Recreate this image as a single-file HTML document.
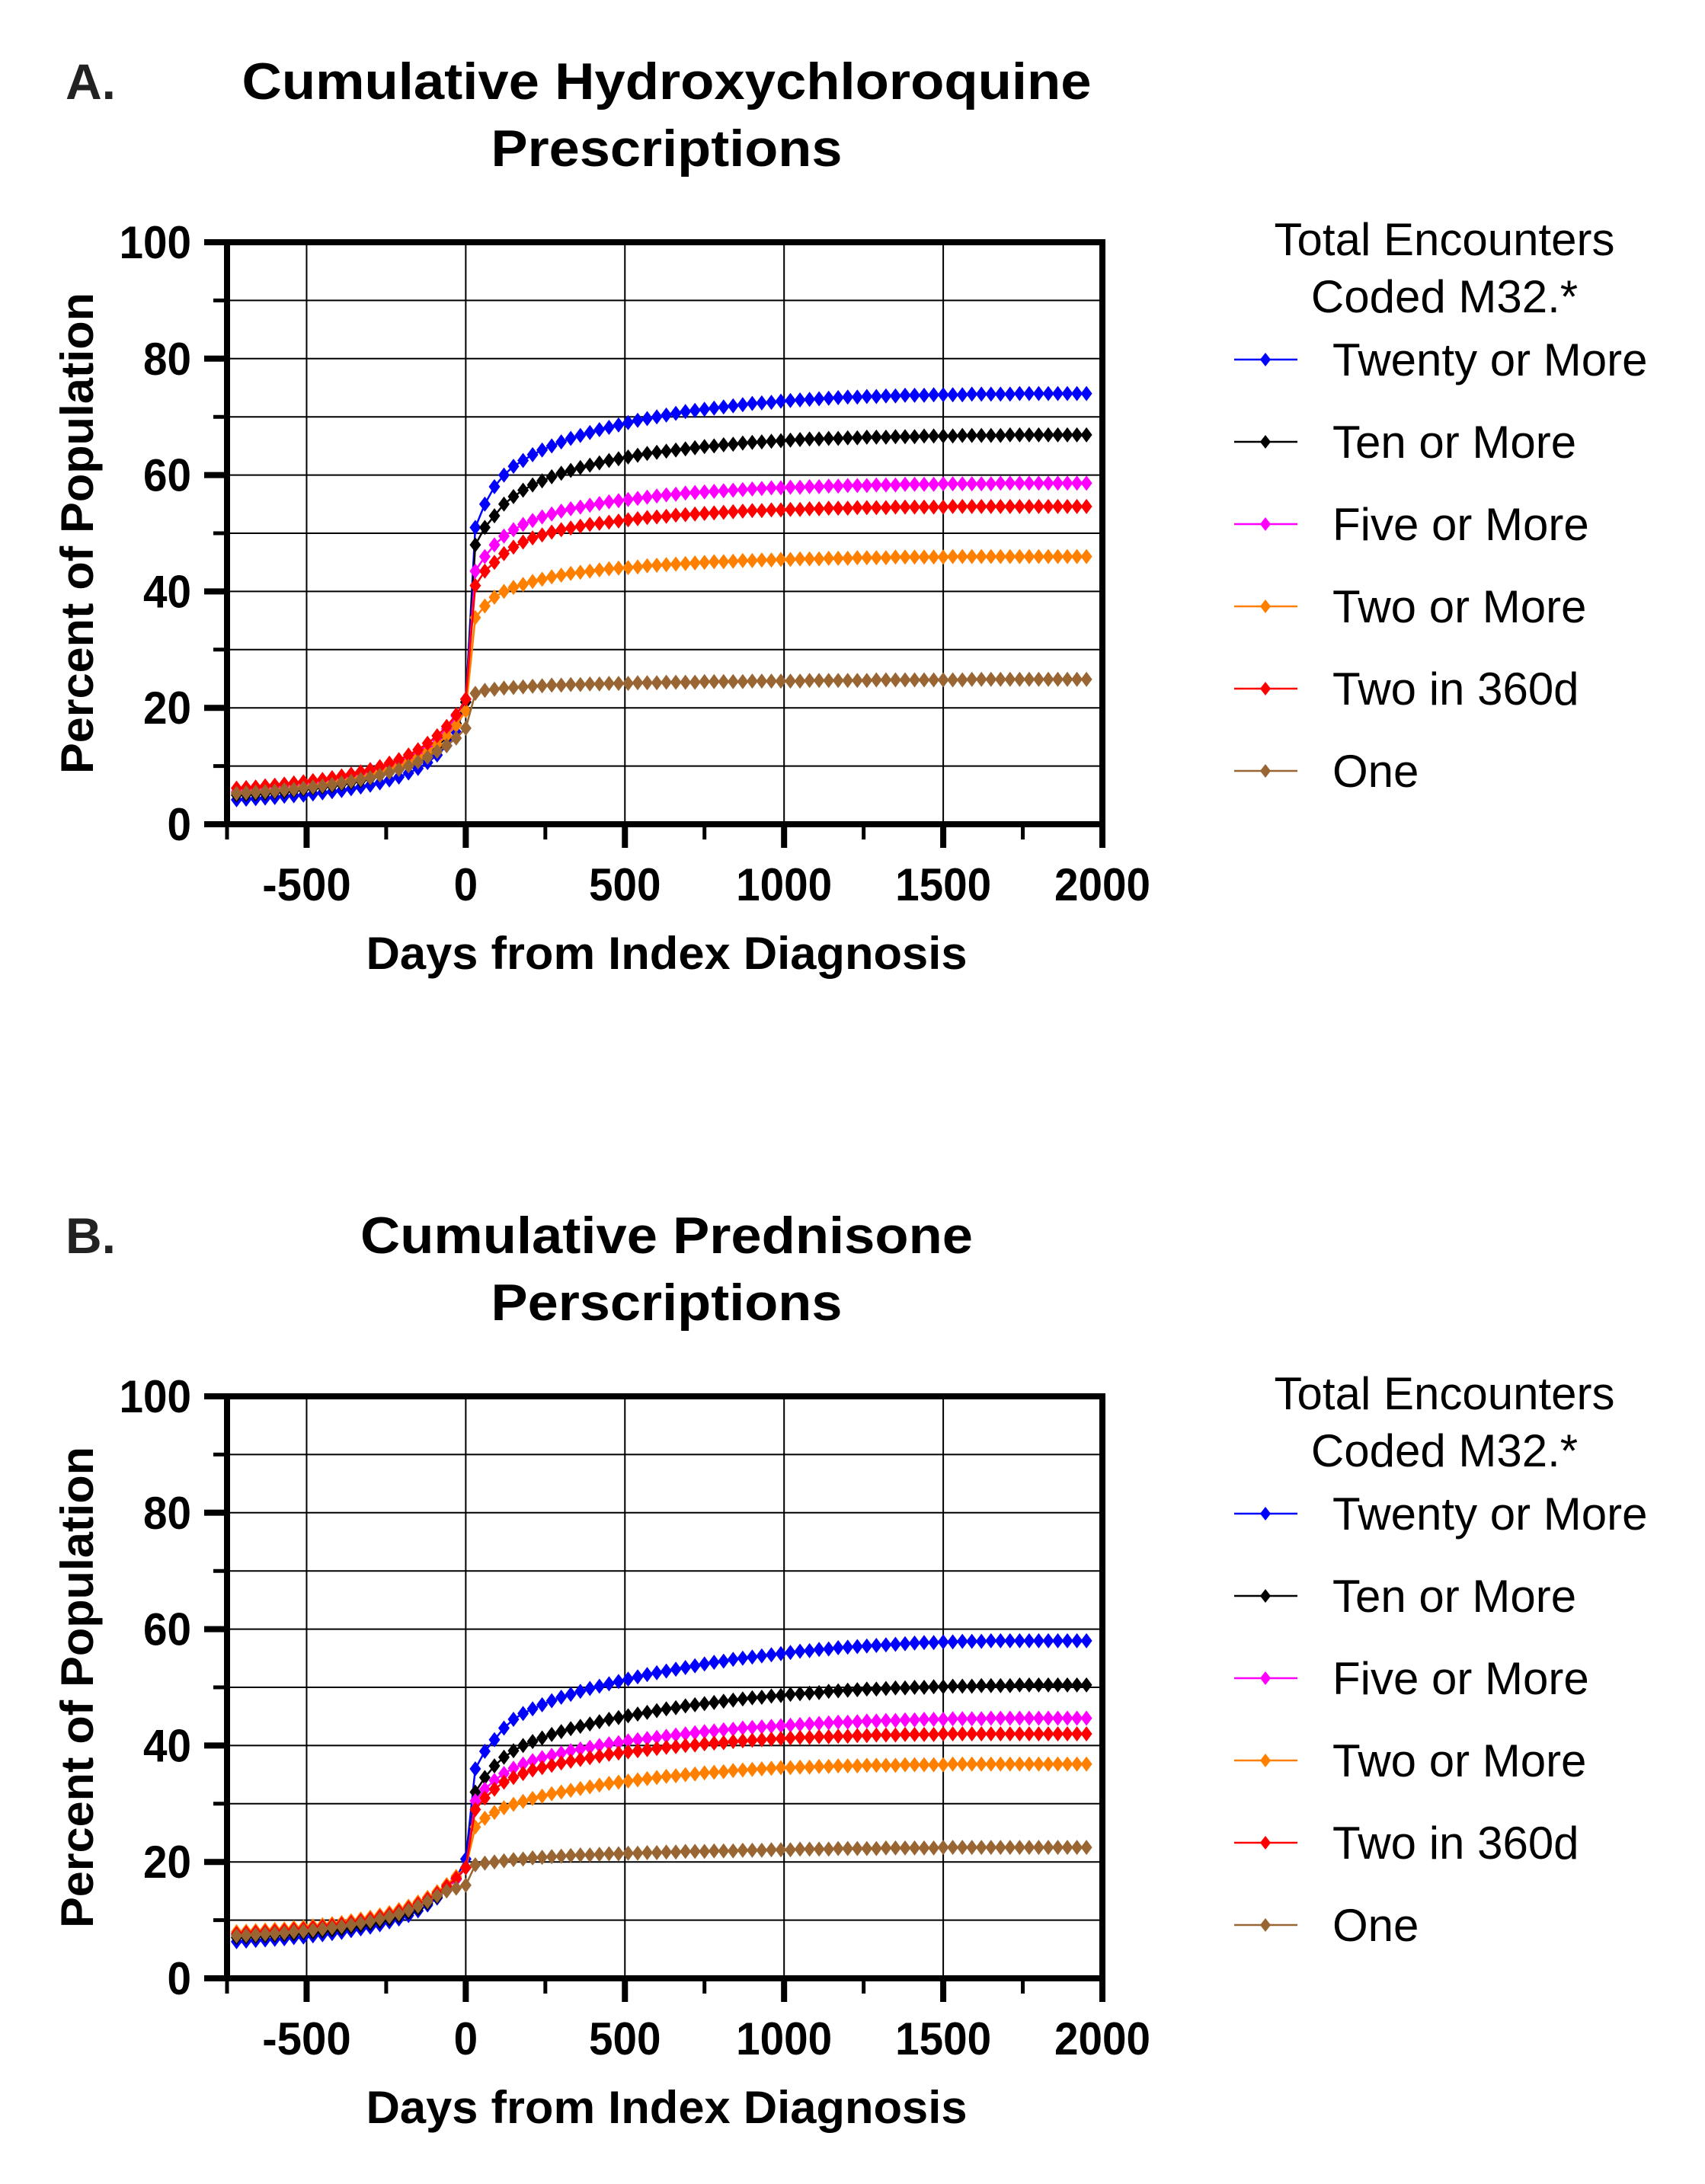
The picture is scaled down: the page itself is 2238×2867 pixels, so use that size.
<!DOCTYPE html>
<html><head><meta charset="utf-8"><style>
html,body{margin:0;padding:0;background:#fff;}
svg{display:block;font-family:"Liberation Sans",Arial,sans-serif;}
</style></head><body>
<svg id="fig" width="2238" height="2867" viewBox="0 0 2238 2867" xmlns="http://www.w3.org/2000/svg">
<g id="panelA"></g>
<g id="panelB"></g>
</svg>
<script>
// ---- data ----
const seriesNames = ["Twenty or More","Ten or More","Five or More","Two or More","Two in 360d","One"];
const seriesColors = ["#0000ff","#000000","#ff00ff","#ff8000","#ff0000","#996633"];
const xTicks = [-500,0,500,1000,1500,2000];
const yTicks = [0,20,40,60,80,100];
const days = [];
for (let d=-720; d<=1950; d+=30) days.push(d);

const hcqTwenty = [4.2,4.3,4.4,4.5,4.6,4.8,4.9,5.0,5.2,5.4,5.6,5.8,6.1,6.4,6.7,7.1,7.6,8.1,8.8,9.6,10.6,11.9,13.5,15.8,21,
51,55,58,60,61.5,62.5,63.5,64.3,65,65.7,66.3,66.8,67.3,67.8,68.2,68.6,69,69.4,69.7,70,70.3,70.6,70.9,71.1,71.3,71.5,71.7,71.9,72.1,72.3,72.4,72.5,72.7,72.8,72.9,73,73.1,73.2,73.3,73.4,73.4,73.5,73.5,73.6,73.6,73.7,73.7,73.7,73.8,73.8,73.8,73.8,73.9,73.9,73.9,73.9,73.9,74,74,74,74,74,74,74,74];
const hcqTen = [5.0,5.1,5.2,5.3,5.5,5.6,5.8,6.0,6.2,6.4,6.6,6.9,7.2,7.5,7.9,8.4,8.9,9.5,10.2,11.0,12.0,13.3,15.0,17.3,21,
48,51,53,55,56.3,57.4,58.3,59,59.7,60.3,60.8,61.3,61.7,62.1,62.5,62.8,63.1,63.4,63.7,63.9,64.1,64.3,64.5,64.7,64.9,65,65.2,65.3,65.5,65.6,65.7,65.8,65.9,66,66.1,66.2,66.2,66.3,66.3,66.4,66.4,66.5,66.5,66.5,66.6,66.6,66.6,66.7,66.7,66.7,66.7,66.8,66.8,66.8,66.8,66.8,66.9,66.9,66.9,66.9,66.9,66.9,66.9,66.9,66.9];
const hcqFive = [5.6,5.7,5.8,5.9,6.1,6.2,6.4,6.6,6.8,7.0,7.3,7.6,7.9,8.3,8.7,9.2,9.8,10.4,11.2,12.1,13.2,14.6,16.4,18.6,21.5,
43.5,46,48,49.5,50.6,51.5,52.2,52.8,53.3,53.8,54.2,54.5,54.8,55.1,55.4,55.6,55.8,56,56.2,56.4,56.6,56.7,56.9,57,57.1,57.2,57.3,57.4,57.5,57.6,57.7,57.8,57.8,57.9,57.9,58,58,58.1,58.1,58.2,58.2,58.2,58.3,58.3,58.3,58.4,58.4,58.4,58.4,58.5,58.5,58.5,58.5,58.5,58.5,58.6,58.6,58.6,58.6,58.6,58.6,58.6,58.6,58.6,58.6];
const hcqTwo = [5.4,5.5,5.6,5.7,5.9,6.0,6.2,6.4,6.6,6.8,7.1,7.4,7.7,8.0,8.4,8.9,9.4,10.0,10.7,11.5,12.5,13.7,15.2,17.0,19.5,
35.5,37.5,39,40,40.7,41.2,41.7,42.1,42.5,42.8,43.1,43.3,43.5,43.7,43.9,44,44.1,44.2,44.4,44.5,44.6,44.7,44.8,44.9,45,45.1,45.1,45.2,45.3,45.3,45.4,45.4,45.5,45.5,45.6,45.6,45.6,45.7,45.7,45.7,45.8,45.8,45.8,45.8,45.9,45.9,45.9,45.9,45.9,45.9,46,46,46,46,46,46,46,46,46,46,46,46,46,46,46];
const hcq360 = [6.2,6.3,6.4,6.6,6.7,6.9,7.1,7.3,7.5,7.7,8.0,8.3,8.6,9.0,9.4,9.9,10.5,11.1,11.9,12.8,13.9,15.2,16.8,18.8,21.5,
41,43.5,45,46.5,47.6,48.5,49.2,49.7,50.2,50.6,50.9,51.2,51.5,51.7,51.9,52.1,52.3,52.5,52.7,52.8,52.9,53.1,53.2,53.3,53.4,53.5,53.6,53.7,53.8,53.9,53.9,54,54,54.1,54.1,54.2,54.2,54.3,54.3,54.3,54.4,54.4,54.4,54.4,54.5,54.5,54.5,54.5,54.5,54.5,54.6,54.6,54.6,54.6,54.6,54.6,54.6,54.6,54.6,54.6,54.6,54.6,54.6,54.6,54.6];
const hcqOne = [5.3,5.4,5.5,5.6,5.7,5.9,6.0,6.2,6.4,6.6,6.8,7.1,7.4,7.7,8.0,8.4,8.9,9.4,10.0,10.7,11.5,12.5,13.5,14.8,16.5,
22.5,23,23.2,23.4,23.5,23.6,23.7,23.8,23.9,23.9,24,24,24.1,24.1,24.2,24.2,24.2,24.3,24.3,24.3,24.4,24.4,24.4,24.4,24.5,24.5,24.5,24.5,24.5,24.6,24.6,24.6,24.6,24.6,24.6,24.7,24.7,24.7,24.7,24.7,24.7,24.7,24.8,24.8,24.8,24.8,24.8,24.8,24.8,24.8,24.8,24.8,24.9,24.9,24.9,24.9,24.9,24.9,24.9,24.9,24.9,24.9,24.9,24.9,24.9];

const predTwenty = [6.3,6.4,6.5,6.6,6.7,6.8,7.0,7.1,7.3,7.5,7.7,7.9,8.2,8.5,8.8,9.2,9.7,10.2,10.8,11.6,12.6,13.8,15.3,17.2,20.5,
36,39,41,43,44.5,45.5,46.3,47,47.7,48.3,48.8,49.3,49.8,50.2,50.6,51,51.4,51.8,52.2,52.5,52.8,53.1,53.4,53.7,54,54.3,54.5,54.8,55,55.2,55.4,55.6,55.8,56,56.2,56.3,56.5,56.6,56.8,56.9,57,57.1,57.2,57.3,57.4,57.5,57.6,57.7,57.7,57.8,57.8,57.9,57.9,57.9,58,58,58,58,58,58,58,58,58,58,58];
const predTen = [7.0,7.1,7.2,7.3,7.4,7.5,7.6,7.8,7.9,8.1,8.3,8.5,8.8,9.1,9.4,9.8,10.2,10.7,11.3,12.0,12.9,14.0,15.4,17.0,19,
32,34.5,36.5,38,39.1,40,40.7,41.3,41.9,42.4,42.9,43.3,43.7,44.1,44.5,44.8,45.1,45.4,45.7,46,46.3,46.5,46.8,47,47.2,47.4,47.6,47.8,48,48.2,48.3,48.5,48.6,48.8,48.9,49,49.1,49.3,49.4,49.5,49.6,49.7,49.7,49.8,49.9,49.9,50,50,50.1,50.1,50.2,50.2,50.2,50.3,50.3,50.3,50.3,50.4,50.4,50.4,50.4,50.4,50.4,50.4,50.4];
const predFive = [7.5,7.6,7.7,7.8,7.9,8.0,8.1,8.3,8.4,8.6,8.8,9.0,9.3,9.6,9.9,10.3,10.7,11.2,11.8,12.5,13.3,14.3,15.5,17.0,19,
30.5,32.5,34,35.2,36.1,36.8,37.4,37.9,38.3,38.7,39.1,39.4,39.7,40,40.3,40.5,40.8,41,41.2,41.4,41.6,41.8,42,42.2,42.4,42.5,42.7,42.8,43,43.1,43.2,43.3,43.4,43.5,43.6,43.7,43.8,43.9,44,44,44.1,44.2,44.2,44.3,44.3,44.4,44.4,44.5,44.5,44.5,44.6,44.6,44.6,44.6,44.7,44.7,44.7,44.7,44.7,44.7,44.7,44.7,44.7,44.7,44.7];
const predTwo = [8.0,8.1,8.2,8.3,8.4,8.5,8.7,8.8,9.0,9.2,9.4,9.6,9.9,10.2,10.5,10.9,11.3,11.8,12.4,13.1,13.9,14.9,16.1,17.5,19,
26,27.5,28.5,29.3,29.9,30.4,30.9,31.3,31.7,32,32.3,32.6,32.9,33.2,33.5,33.7,33.9,34.1,34.3,34.5,34.7,34.8,35,35.1,35.3,35.4,35.5,35.7,35.8,35.9,36,36.1,36.2,36.2,36.3,36.3,36.4,36.4,36.5,36.5,36.5,36.6,36.6,36.6,36.6,36.7,36.7,36.7,36.7,36.7,36.8,36.8,36.8,36.8,36.8,36.8,36.8,36.8,36.8,36.8,36.8,36.8,36.8,36.8,36.8];
const pred360 = [7.7,7.8,7.9,8.0,8.1,8.2,8.4,8.5,8.7,8.9,9.1,9.3,9.6,9.9,10.2,10.6,11.0,11.5,12.1,12.8,13.6,14.6,15.8,17.2,19,
29,31,32.5,33.7,34.5,35.2,35.8,36.2,36.6,37,37.3,37.6,37.9,38.2,38.5,38.7,38.9,39.1,39.3,39.5,39.7,39.8,40,40.1,40.3,40.4,40.5,40.7,40.8,40.9,41,41.1,41.2,41.3,41.4,41.4,41.5,41.5,41.6,41.6,41.7,41.7,41.8,41.8,41.8,41.9,41.9,41.9,41.9,42,42,42,42,42,42,42,42,42,42,42,42,42,42,42,42];
const predOne = [7.3,7.4,7.5,7.6,7.7,7.8,8.0,8.1,8.3,8.5,8.7,8.9,9.2,9.5,9.8,10.2,10.6,11.1,11.7,12.4,13.2,14.2,15.0,15.5,16,
19.5,19.8,20,20.2,20.4,20.5,20.7,20.8,20.9,21,21.1,21.2,21.2,21.3,21.4,21.4,21.5,21.5,21.6,21.6,21.7,21.7,21.8,21.8,21.8,21.9,21.9,21.9,22,22,22,22.1,22.1,22.1,22.2,22.2,22.2,22.2,22.3,22.3,22.3,22.3,22.3,22.4,22.4,22.4,22.4,22.4,22.4,22.5,22.5,22.5,22.5,22.5,22.5,22.5,22.5,22.5,22.5,22.5,22.5,22.5,22.5,22.5,22.5];

const NS = "http://www.w3.org/2000/svg";
function mk(parent, tag, attrs, text){
  const e = document.createElementNS(NS, tag);
  for (const k in attrs) e.setAttribute(k, attrs[k]);
  if (text !== undefined) e.textContent = text;
  parent.appendChild(e);
  return e;
}
function tickLen(s){ let w=0; for (const c of s) w += (c==='-')?22:31.5; return w; }

function drawPanel(g, top, letter, title1, title2, tl1, tl2, allSeries, prefix){
  const L=298, R=1447, T=top, B=top+764;
  const xMin=-750, xMax=2000;
  const sx = v => L + (v - xMin)/(xMax - xMin)*(R-L);
  const sy = v => B - v/100*(B-T);

  let t = mk(g,'text',{x:86,y:top-188,'font-size':66,'font-weight':'bold','fill':'#222'},letter);
  
  
  t = mk(g,'text',{x:875,y:top-188,'font-size':68,'font-weight':'bold','text-anchor':'middle',textLength:tl1,lengthAdjust:'spacingAndGlyphs'},title1);
  
  
  t = mk(g,'text',{x:875,y:top-100,'font-size':68,'font-weight':'bold','text-anchor':'middle',textLength:tl2,lengthAdjust:'spacingAndGlyphs'},title2);
  
  

  const grid = mk(g,'g',{});
  
  
  for (let v=10; v<100; v+=10){
    mk(grid,'line',{x1:L,x2:R,y1:sy(v),y2:sy(v),stroke:'#000','stroke-width':2});
  }
  for (let v=-500; v<2000; v+=500){
    mk(grid,'line',{x1:sx(v),x2:sx(v),y1:T,y2:B,stroke:'#000','stroke-width':2});
  }

  for (let s=0; s<allSeries.length; s++){
    const vals = allSeries[s];
    const sg = mk(g,'g',{});
    
    
    const n = Math.min(vals.length, days.length);
    let d='';
    for (let i=0;i<n;i++) d += (i?'L':'M')+sx(days[i]).toFixed(1)+' '+sy(vals[i]).toFixed(1);
    mk(sg,'path',{d:d,fill:'none',stroke:seriesColors[s],'stroke-width':2.5});
    let md='';
    for (let i=0;i<n;i++){
      const x=sx(days[i]), y=sy(vals[i]), r=10;
      md += `M${x.toFixed(1)} ${(y-r).toFixed(1)}L${(x+r*0.75).toFixed(1)} ${y.toFixed(1)}L${x.toFixed(1)} ${(y+r).toFixed(1)}L${(x-r*0.75).toFixed(1)} ${y.toFixed(1)}Z`;
    }
    mk(sg,'path',{d:md,fill:seriesColors[s]});
  }

  const ax = mk(g,'g',{});
  
  
  mk(ax,'rect',{x:L,y:T,width:R-L,height:B-T,fill:'none',stroke:'#000','stroke-width':8});
  for (let v=0; v<=100; v+=10){
    const major = v%20===0;
    mk(ax,'line',{x1:L-(major?30:18),x2:L,y1:sy(v),y2:sy(v),stroke:'#000','stroke-width':major?8:5});
  }
  for (const v of yTicks){
    const s = String(v);
    const tl = mk(ax,'text',{x:251,y:sy(v)+21,'font-size':60,'font-weight':'bold','text-anchor':'end',textLength:tickLen(s),lengthAdjust:'spacingAndGlyphs'},s);
    
    
  }
  for (let v=-750; v<=2000; v+=250){
    const major = v%500===0;
    mk(ax,'line',{x1:sx(v),x2:sx(v),y1:B,y2:B+(major?31:20),stroke:'#000','stroke-width':major?8:5});
  }
  for (const v of xTicks){
    const s = String(v);
    const tl = mk(ax,'text',{x:sx(v),y:B+100,'font-size':60,'font-weight':'bold','text-anchor':'middle',textLength:tickLen(s),lengthAdjust:'spacingAndGlyphs'},s);
    
    
  }
  let at = mk(g,'text',{x:875,y:B+190,'font-size':60,'font-weight':'bold','text-anchor':'middle',textLength:789,lengthAdjust:'spacingAndGlyphs'},'Days from Index Diagnosis');
  
  
  const cy = (T+B)/2;
  at = mk(g,'text',{x:0,y:0,'font-size':60,'font-weight':'bold','text-anchor':'middle',textLength:632,lengthAdjust:'spacingAndGlyphs',transform:`translate(122 ${cy}) rotate(-90)`},'Percent of Population');
  
  

  const lg = mk(g,'g',{});
  
  
  let lt = mk(lg,'text',{x:1896,y:T+17,'font-size':60,'text-anchor':'middle'},'Total Encounters');
  
  
  lt = mk(lg,'text',{x:1896,y:T+92,'font-size':60,'text-anchor':'middle'},'Coded M32.*');
  
  
  for (let s=0; s<seriesNames.length; s++){
    const y = T + 154 + s*108;
    const e = mk(lg,'g',{});
    
    
    mk(e,'line',{x1:1620,x2:1703,y1:y,y2:y,stroke:seriesColors[s],'stroke-width':2.5});
    mk(e,'path',{d:`M1661 ${y-9}L1668 ${y}L1661 ${y+9}L1654 ${y}Z`,fill:seriesColors[s]});
    mk(e,'text',{x:1749,y:y+21,'font-size':60},seriesNames[s]);
  }
}

drawPanel(document.getElementById('panelA'), 318, 'A.', 'Cumulative Hydroxychloroquine', 'Prescriptions', 1115, 461,
  [hcqTwenty,hcqTen,hcqFive,hcqTwo,hcq360,hcqOne], 'hcq-');
drawPanel(document.getElementById('panelB'), 1833, 'B.', 'Cumulative Prednisone', 'Perscriptions', 804, 461,
  [predTwenty,predTen,predFive,predTwo,pred360,predOne], 'pred-');
</script>
</body></html>
